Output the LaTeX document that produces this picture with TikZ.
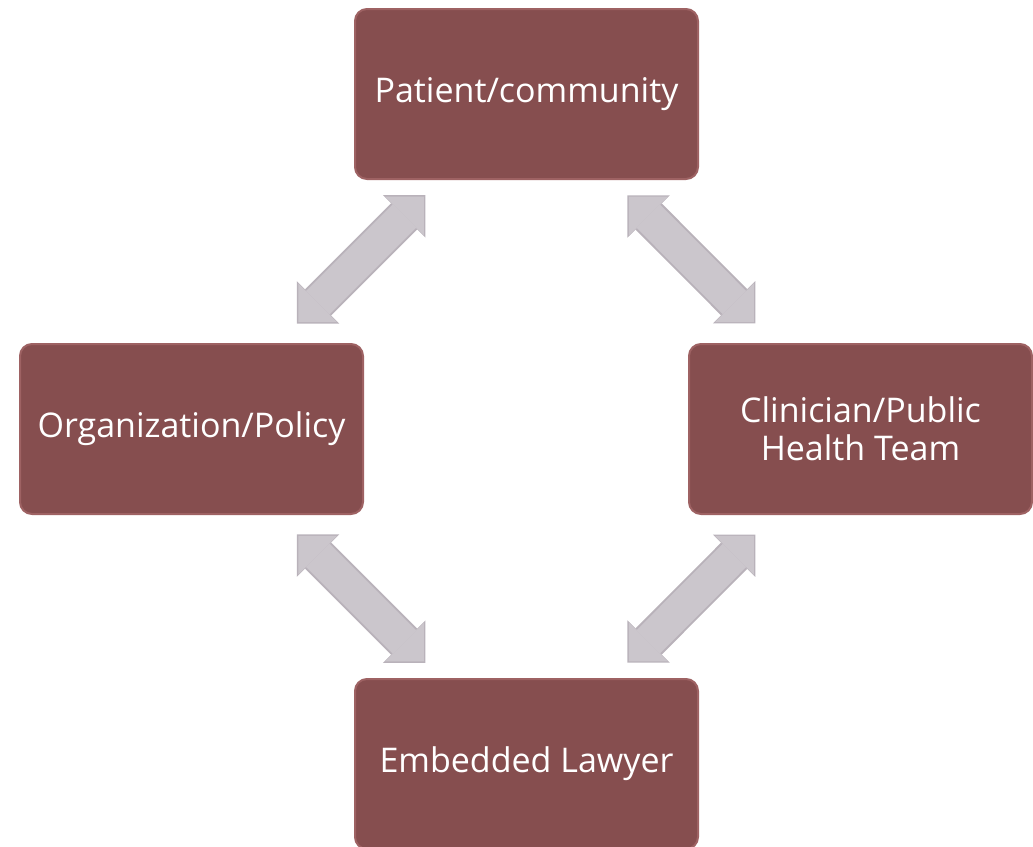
\documentclass[tikz,border=0pt]{standalone}
\usepackage{fontspec}
\setmainfont{Open Sans}
\usetikzlibrary{arrows.meta}
\definecolor{boxred}{HTML}{864E4F}
\definecolor{boxrim}{HTML}{9E6263}
\definecolor{linkgray}{HTML}{CBC6CC}
\definecolor{linkrim}{HTML}{B9B2BA}

\begin{document}
\begin{tikzpicture}[x=1pt,y=-1pt]
    \tikzstyle{every node}+=[inner sep=0pt]
    \tikzset{
      party/.style={draw=boxrim, line width=2pt, fill=boxred, rounded corners=12pt,
        minimum width=343pt, minimum height=170pt, text=white, align=center,
        font=\fontsize{34}{38}\selectfont},
      linkrim/.style={draw=linkrim, line width=37pt,
        {Triangle[width=60pt,length=30pt,line width=0pt]}-{Triangle[width=60pt,length=30pt,line width=0pt]}},
      link/.style={draw=linkgray, line width=33pt,
        {Triangle[width=55pt,length=27.5pt,line width=0pt]}-{Triangle[width=55pt,length=27.5pt,line width=0pt]}}
    }
    \useasboundingbox (0,0) rectangle (1033,846);
    \node [party] (pat) at (526.5,94) {Patient/community};
    \node [party] (org) at (191.5,429) {Organization/Policy};
    \node [party] (cli) at (860.5,429) {Clinician/Public\\Health Team};
    \node [party] (law) at (526.5,764) {Embedded Lawyer};
    \draw [linkrim, shorten <=143pt, shorten >=149pt] (pat.center) -- (org.center);
    \draw [link, shorten <=145pt, shorten >=151pt] (pat.center) -- (org.center);
    \draw [linkrim, shorten <=143pt, shorten >=149pt] (pat.center) -- (cli.center);
    \draw [link, shorten <=145pt, shorten >=151pt] (pat.center) -- (cli.center);
    \draw [linkrim, shorten <=143pt, shorten >=149pt] (law.center) -- (org.center);
    \draw [link, shorten <=145pt, shorten >=151pt] (law.center) -- (org.center);
    \draw [linkrim, shorten <=143pt, shorten >=149pt] (law.center) -- (cli.center);
    \draw [link, shorten <=145pt, shorten >=151pt] (law.center) -- (cli.center);
\end{tikzpicture}
\end{document}
